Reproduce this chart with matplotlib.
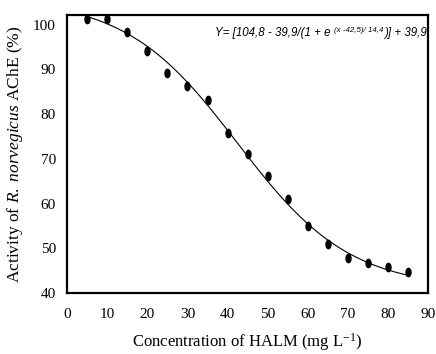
import numpy as np
import matplotlib
matplotlib.use("Agg")
import matplotlib.pyplot as plt
from matplotlib.path import Path

plt.rcParams['mathtext.fontset'] = 'custom'
plt.rcParams['mathtext.rm'] = 'Liberation Serif'
plt.rcParams['mathtext.it'] = 'Liberation Serif:italic'

conc = [5, 10, 15, 20, 25, 30, 35, 40, 45, 50, 55, 60, 65, 70, 75, 80, 85]
activity = [101.3, 101.3, 98.3, 94.2, 89.1, 86.2, 83.2, 75.9, 71.0, 66.1, 61.0, 55.0, 50.9, 47.8, 46.8, 45.8, 44.8]
# fitted sigmoid curve parameters (as drawn in the figure)
top, bottom, x0, slope = 106.0, 41.0, 42.5, 14.0
xticks = [0, 10, 20, 30, 40, 50, 60, 70, 80, 90]
yticks = [40, 50, 60, 70, 80, 90, 100]

fig = plt.figure(figsize=(4.36, 3.54), dpi=100)
ax = fig.add_axes([0.154, 0.172, 0.828, 0.786])

xc = np.linspace(5, 85, 300)
yc = bottom + (top - bottom) / (1 + np.exp((xc - x0) / slope))
ax.plot(xc, yc, color='black', lw=0.8)

t = np.linspace(0, 2 * np.pi, 40)
ell = Path(np.column_stack([0.6 * np.cos(t), np.sin(t)]), closed=True)
ax.plot(conc, activity, linestyle='none', marker=ell, markersize=6,
        color='black')

ax.set_xlim(0, 90)
ax.set_ylim(40, 102.2)
ax.set_xticks(xticks)
ax.set_yticks(yticks)
ax.tick_params(length=0, labelsize=11)
ax.tick_params(axis='x', pad=11)
ax.tick_params(axis='y', pad=8)
for lab in ax.get_xticklabels() + ax.get_yticklabels():
    lab.set_fontfamily('Liberation Serif')
for s in ax.spines.values():
    s.set_linewidth(1.6)

ax.set_xlabel('Concentration of HALM (mg L$^{-1}$)', fontfamily='Liberation Serif', fontsize=12, labelpad=7)
ax.set_ylabel(r'Activity of $\mathit{R.\ norvegicus}$ AChE (%)', fontfamily='Liberation Serif', fontsize=12.5, labelpad=6)

# equation in pieces
fig.canvas.draw()
r = fig.canvas.get_renderer()
xpix, ypix = 215, 354 - 36
pieces = [("Y= [104,8 - 39,9/(1 + e ", 8.3, 0), ("(x -42,5)/ 14,4", 5.7, 4), (")] + 39,9", 8.3, 0)]
for txt, fs, dy in pieces:
    tt = fig.text(xpix / 436, (ypix + dy) / 354, txt, fontsize=fs, fontstyle='italic',
                  fontfamily='Liberation Sans', ha='left', va='baseline')
    bb = tt.get_window_extent(r)
    xpix = bb.x1 + (1 if fs < 8 else 0)

fig.savefig('out.png', dpi=100)
